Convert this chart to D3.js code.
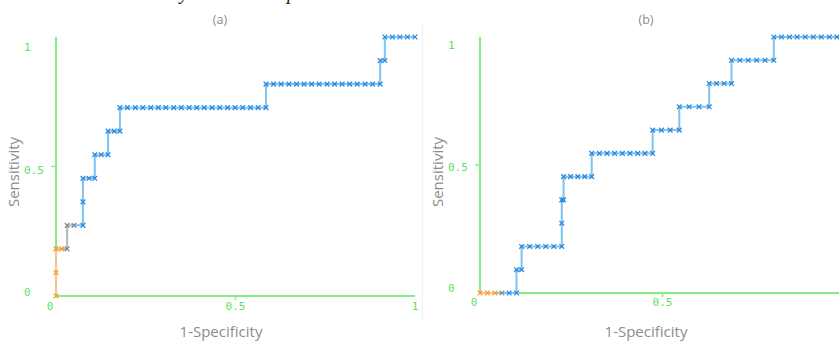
<!DOCTYPE html>
<html><head><meta charset="utf-8">
<script src="https://cdn.jsdelivr.net/npm/d3@7"></script>
<style>
html,body{margin:0;padding:0;background:#fff;}
svg{display:block;}
</style></head>
<body>
<svg id="chart" width="839" height="341"></svg>
<script>
// ---- data ----
const panelTitles = ["(a)", "(b)"];
const xTickValues = [0, 0.5, 1];
const yTickValues = [0, 0.5, 1];
const xTickLabels = ["0", "0.5", "1"];
const yTickLabels = ["0", "0.5", "1"];
const xAxisTitle = "1-Specificity";
const yAxisTitle = "Sensitivity";
const groupColors = {orange: ["#fbc08a", "#f59a30"], grey: ["#aebcbc", "#7d9090"], blue: ["#7cc3f3", "#2a8ae0"]};

// panel (a) ROC points: 1-specificity, sensitivity, colour group
const aFpr = [0, 0, 0, 0.016, 0.031, 0.031, 0.05, 0.075, 0.075, 0.075, 0.092, 0.108, 0.108, 0.126, 0.145, 0.145, 0.162, 0.178, 0.178,
  0.199, 0.221, 0.242, 0.264, 0.285, 0.306, 0.328, 0.349, 0.371, 0.392, 0.413, 0.435, 0.456, 0.478, 0.499, 0.520, 0.542, 0.563, 0.585,
  0.585, 0.606, 0.627, 0.649, 0.670, 0.691, 0.712, 0.733, 0.755, 0.776, 0.797, 0.818, 0.839, 0.861, 0.882, 0.903,
  0.903, 0.916, 0.916, 0.937, 0.958, 0.979, 1];
const aTpr = [0, 0.0909, 0.1818, 0.1818, 0.1818, 0.2727, 0.2727, 0.2727, 0.3636, 0.4545, 0.4545, 0.4545, 0.5455, 0.5455, 0.5455, 0.6364, 0.6364, 0.6364, 0.7273,
  0.7273, 0.7273, 0.7273, 0.7273, 0.7273, 0.7273, 0.7273, 0.7273, 0.7273, 0.7273, 0.7273, 0.7273, 0.7273, 0.7273, 0.7273, 0.7273, 0.7273, 0.7273, 0.7273,
  0.8182, 0.8182, 0.8182, 0.8182, 0.8182, 0.8182, 0.8182, 0.8182, 0.8182, 0.8182, 0.8182, 0.8182, 0.8182, 0.8182, 0.8182, 0.8182,
  0.9091, 0.9091, 1, 1, 1, 1, 1];
const aGroup = ["orange", "orange", "orange", "orange", "grey", "grey", "grey"];

// panel (b) ROC points
const bFpr = [0, 0.02, 0.041, 0.06, 0.08, 0.1, 0.1, 0.114, 0.114, 0.136, 0.158, 0.18, 0.202, 0.224, 0.224, 0.224, 0.229, 0.229,
  0.248, 0.268, 0.287, 0.306, 0.306, 0.327, 0.348, 0.369, 0.39, 0.411, 0.432, 0.452, 0.473, 0.473, 0.497, 0.521, 0.546,
  0.546, 0.573, 0.6, 0.628, 0.628, 0.648, 0.669, 0.689, 0.689, 0.712, 0.735, 0.758, 0.781, 0.805,
  0.805, 0.826, 0.848, 0.869, 0.891, 0.913, 0.935, 0.957, 0.978, 1];
const bTpr = [0, 0, 0, 0, 0, 0, 0.0909, 0.0909, 0.1818, 0.1818, 0.1818, 0.1818, 0.1818, 0.1818, 0.2727, 0.3636, 0.3636, 0.4545,
  0.4545, 0.4545, 0.4545, 0.4545, 0.5455, 0.5455, 0.5455, 0.5455, 0.5455, 0.5455, 0.5455, 0.5455, 0.5455, 0.6364, 0.6364, 0.6364, 0.6364,
  0.7273, 0.7273, 0.7273, 0.7273, 0.8182, 0.8182, 0.8182, 0.8182, 0.9091, 0.9091, 0.9091, 0.9091, 0.9091, 0.9091,
  1, 1, 1, 1, 1, 1, 1, 1, 1, 1];
const bGroup = ["orange", "orange", "orange", "grey"];

// ---- layout ----
const panels = [
  {title: panelTitles[0], fpr: aFpr, tpr: aTpr, grp: aGroup, xTicksShown: [0, 0.5, 1],
   x: [56, 415], y: [296, 37], xLab: 310, yLabX: 24, yLabPos: [292, 47], titleX: 220, xTitleX: 221, yTitleX: 19},
  {title: panelTitles[1], fpr: bFpr, tpr: bTpr, grp: bGroup, xTicksShown: [0, 0.5],
   x: [480, 845], y: [293, 37], xLab: 306, yLabX: 448, yLabPos: [288, 45], titleX: 646, xTitleX: 646, yTitleX: 443}
];

const svg = d3.select("#chart");
const axisGreen = "#86ec86";
const labelGreen = "#5fe05f";
const titleGrey = "#8c8c8c";

// top clipped caption descenders
svg.append("text").attr("x", 180).attr("y", -1).attr("font-family", "Liberation Serif")
  .attr("font-style", "italic").attr("font-size", 20).attr("fill", "#222").text("y");
svg.append("text").attr("x", 287).attr("y", -1).attr("font-family", "Liberation Serif")
  .attr("font-style", "italic").attr("font-size", 20).attr("fill", "#222").text("p");

// faint divider
svg.append("line").attr("x1", 422.5).attr("x2", 422.5).attr("y1", 22).attr("y2", 322)
  .attr("stroke", "#f0f0f0").attr("stroke-width", 1);

panels.forEach(p => {
  const g = svg.append("g");
  const x = d3.scaleLinear().domain([0, 1]).range(p.x);
  const y = d3.scaleLinear().domain([0, 1]).range(p.y);
  const yLab = d3.scaleLinear().domain([0, 1]).range(p.yLabPos);

  // panel title
  g.append("text").attr("x", p.titleX).attr("y", 24).attr("text-anchor", "middle")
    .attr("font-family", "Open Sans").attr("font-size", 12.5).attr("fill", titleGrey).text(p.title);

  // axes
  g.append("line").attr("x1", x(0)).attr("x2", x(1)).attr("y1", y(0)).attr("y2", y(0))
    .attr("stroke", axisGreen).attr("stroke-width", 2);
  g.append("line").attr("x1", x(0)).attr("x2", x(0)).attr("y1", y(0)).attr("y2", y(1))
    .attr("stroke", axisGreen).attr("stroke-width", 2);
  g.append("line").attr("x1", x(0.5)).attr("x2", x(0.5)).attr("y1", y(0)).attr("y2", y(0) + 4)
    .attr("stroke", axisGreen).attr("stroke-width", 1.5);
  g.append("line").attr("x1", x(0) - 5).attr("x2", x(0)).attr("y1", y(0.5)).attr("y2", y(0.5))
    .attr("stroke", axisGreen).attr("stroke-width", 1.5);

  // tick labels
  xTickValues.forEach((v, i) => {
    if (!p.xTicksShown.includes(v)) return;
    g.append("text").attr("x", x(v) + (v === 0 ? -6 : 0)).attr("y", p.xLab)
      .attr("text-anchor", "middle").attr("font-family", "DejaVu Sans Mono").attr("font-size", 11)
      .attr("fill", labelGreen).text(xTickLabels[i]);
  });
  yTickValues.forEach((v, i) => {
    g.append("text").attr("x", p.yLabX).attr("y", yLab(v) + 4)
      .attr("text-anchor", "start").attr("font-family", "DejaVu Sans Mono").attr("font-size", 11)
      .attr("fill", labelGreen).text(yTickLabels[i]);
  });

  // axis titles
  g.append("text").attr("x", p.xTitleX).attr("y", 337).attr("text-anchor", "middle")
    .attr("font-family", "Open Sans").attr("font-size", 15).attr("fill", titleGrey).text(xAxisTitle);
  g.append("text").attr("transform", `translate(${p.yTitleX},172) rotate(-90)`).attr("text-anchor", "middle")
    .attr("font-family", "Open Sans").attr("font-size", 15).attr("fill", titleGrey).text(yAxisTitle);

  // ROC data
  const pts = p.fpr.map((f, i) => ({f, t: p.tpr[i], g: p.grp[i] || "blue"}));
  for (let i = 1; i < pts.length; i++) {
    g.append("line")
      .attr("x1", x(pts[i - 1].f)).attr("y1", y(pts[i - 1].t))
      .attr("x2", x(pts[i].f)).attr("y2", y(pts[i].t))
      .attr("stroke", groupColors[pts[i].g][0]).attr("stroke-width", 2)
      .attr("stroke-linecap", "round");
  }
  const sym = d3.symbol().type(d3.symbolX).size(16);
  g.selectAll("path.mk").data(pts).join("path").attr("class", "mk")
    .attr("d", sym)
    .attr("transform", d => `translate(${x(d.f)},${y(d.t)})`)
    .attr("fill", "none")
    .attr("stroke", d => groupColors[d.g][1]).attr("stroke-width", 1.3);
});
</script>
</body></html>
